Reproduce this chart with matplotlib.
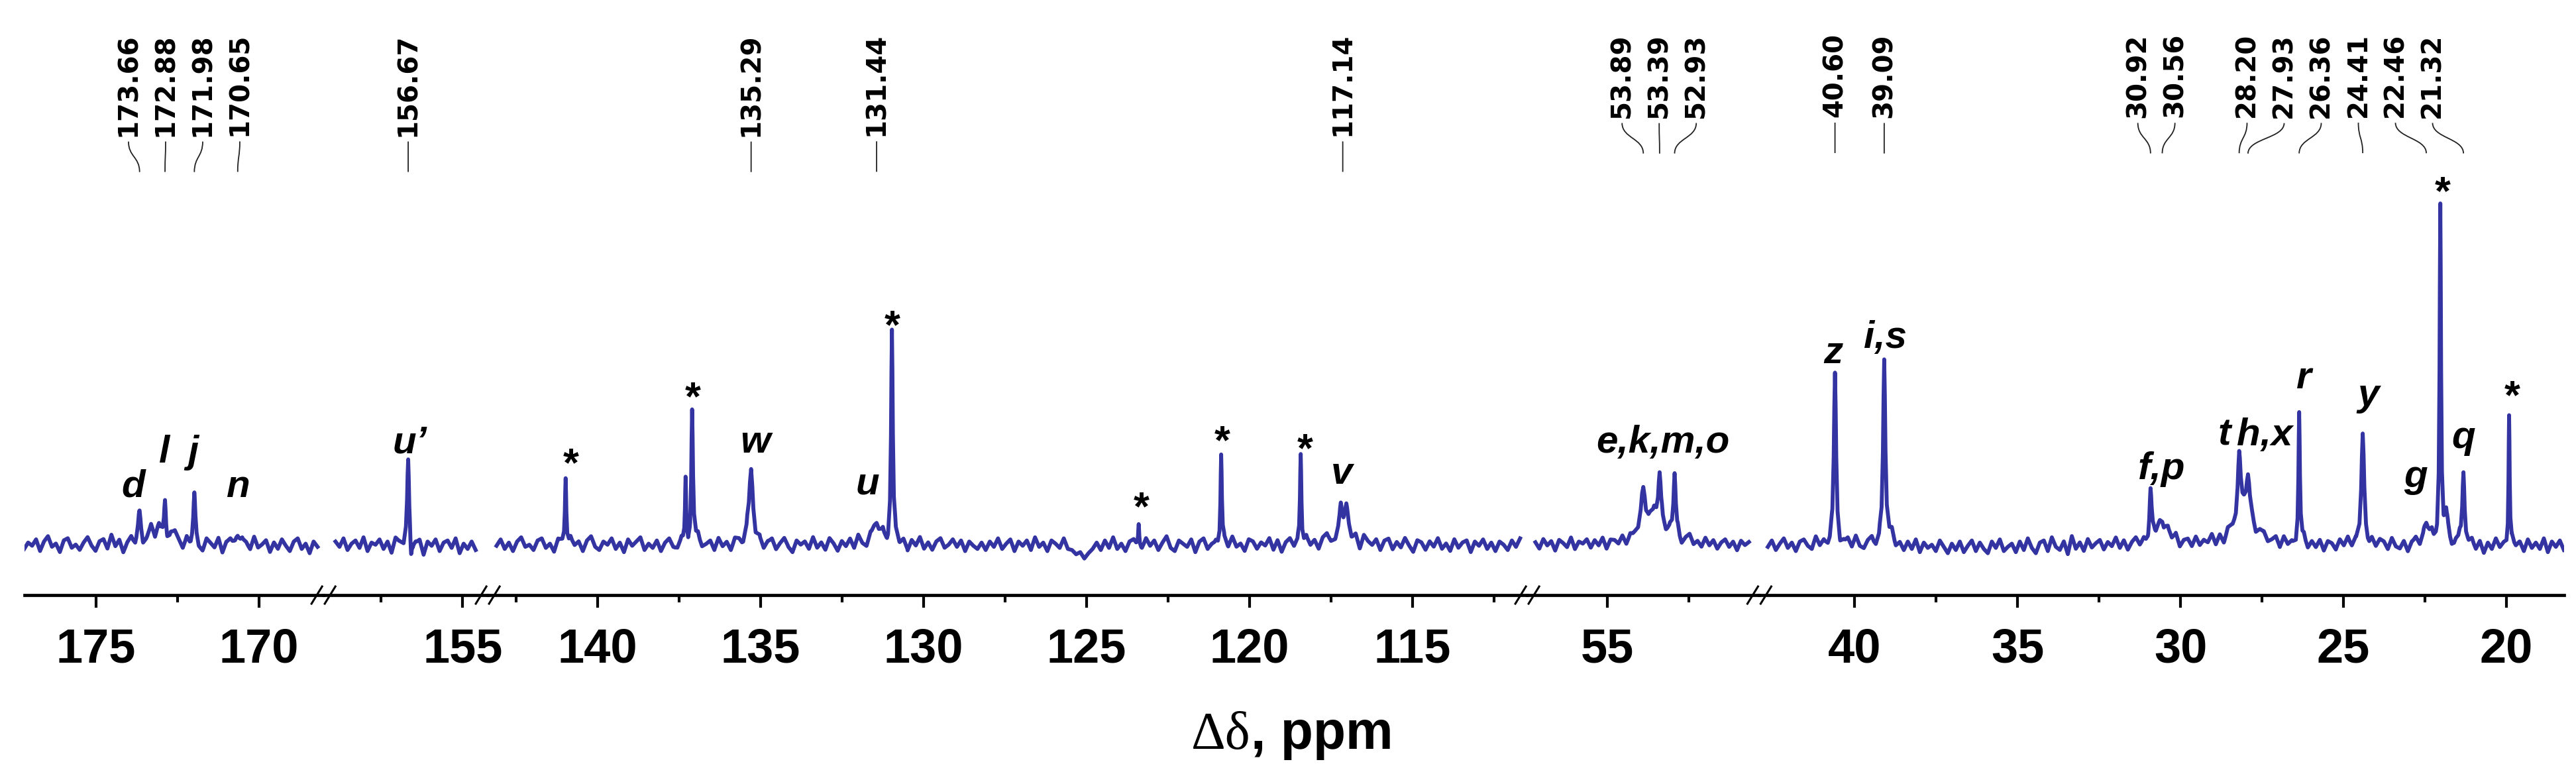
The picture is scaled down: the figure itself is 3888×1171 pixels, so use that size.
import numpy as np
import matplotlib
matplotlib.use('Agg')
import matplotlib.pyplot as plt
from matplotlib.path import Path
from matplotlib.patches import PathPatch
from matplotlib.lines import Line2D
from matplotlib import font_manager as fm

W, H, DPI = 3888, 1171, 100
BLUE = '#3333a2'

# broken ppm axis: panel limits (left, right) and range covered by the trace
SEG_LIMS = [(177.19, 168.02), (159.27, 154.23), (143.37, 111.48), (57.45, 50.33), (42.92, 18.23)]
SEG_DATA = [(177.2, 168.2), (158.9, 154.6), (143.1, 111.7), (57.2, 50.65), (42.66, 18.24)]
MAJOR_TICKS = [[175, 170], [155], [140, 135, 130, 125, 120, 115], [55], [40, 35, 30, 25, 20]]
MINOR_TICKS = [[172.5], [157.5], [142.5, 137.5, 132.5, 127.5, 122.5, 117.5, 112.5],
               [52.5], [37.5, 32.5, 27.5, 22.5]]

# peaks: position (ppm), height (a.u.), half width (ppm)
PEAK_PPM = [173.66, 173.10, 172.88, 171.98, 170.65,
            156.67, 156.58,
            140.98, 137.30, 137.10, 135.29, 131.44, 130.97, 123.40, 120.87, 118.43,
            117.20, 117.10, 117.03,
            53.89, 53.55, 53.39, 52.93,
            40.60, 39.09, 30.92, 30.56, 28.20, 28.05, 27.93, 26.36, 24.41,
            22.46, 22.03, 21.85, 21.32, 19.92]
PEAK_HEIGHT = [35, 18, 62, 65, 22,
               125, -25,
               105, 95, 205, 115, 32, 318, 35, 140, 139,
               35, 30, 28,
               60, 40, 75, 93,
               254, 282, 70, 36, 88, 55, 62, 195, 162,
               35, 504, 40, 112, 199]
PEAK_WIDTH = [0.05, 0.25, 0.035, 0.035, 0.08,
              0.035, 0.02,
              0.025, 0.02, 0.03, 0.07, 0.15, 0.03, 0.02, 0.025, 0.025,
              0.04, 0.25, 0.04,
              0.08, 0.4, 0.05, 0.04,
              0.04, 0.04, 0.035, 0.2, 0.05, 0.3, 0.06, 0.025, 0.05,
              0.1, 0.025, 0.06, 0.04, 0.02]

# baseline noise (list units; NOISE_AU a.u. per unit)
NOISE_AU = 1.6
NOISE_1 = [-4, 2, -1, 5, -6, 3, 8, -2, 1, -7, 4, 6, -3, 0, -5, 2, 7, -1, -6, 3, 5, -4, 9, -2,
           4, -8, 1, 6, -3, 10, -5, 2, 12, -3, 8, 0, -6, 7, 11, 3, -5, 6, -2, 9, -4, -7, 5, 1,
           -3, 6, -8, 2, 4, -2, -6, 3, 1, -5, 7, -3, 0, 4, -7, 2, -4, 5, -1, -6, 3, 6, -4, 1,
           -8, 3, -2]
NOISE_2 = [3, -2, 6, -5, 1, 4, -3, 7, -6, 2, 0, 5, -4, 3, -8, 6, 2, -3, 5, -7, 1, 4, -10, 3,
           -1, 5, -6, 2, 4, -3, 6, -8, 1, -4, 3, -5]
NOISE_3 = [-1, 5, -4, 2, -6, 3, 7, -2, 0, -5, 4, 6, -3, 1, -7, 5, 2, -4, 6, -1,
           3, -6, 4, 8, -2, -5, 3, 0, 6, -4, 2, -7, 5, -1, 3, 7, -5, 1, -3, 4,
           -6, 2, 6, -2, -4, 5, 1, -7, 3, 8, -3, 0, 4, -5, 6, -2, 2, -6, 5, 3,
           -4, 7, -1, -3, 4, -6, 2, 5, -5, 1, 6, -2, -7, 4, 0, 3, -4, 7, -3, 2,
           -5, 6, 1, -6, 3, -2, 5, -4, 8, -1, -5, 4, 2, -3, 6, -7, 1, 5, -2, 3,
           -6, 4, -1, 7, -4, 2, -5, 3, 6, -3, 0, 5, -2, 4, -6, 3, -1, -4, 2, -5,
           3, -2, 6, -4, 1, 5, -6, 3, -1, 4, -5, 7, -2, 2, -6, 4, 1, -3, 6, -4,
           -5, -9, -7, -13, -8, -4, 2, -5, 4, -3, 7, -4, 1, -6, 3, 5, -2, -4, 6, -1,
           4, -5, 2, 8, -3, -6, 4, 1, -2, 5, -7, 3, 6, -4, 0, 2, -5, 4, -3, 7,
           -2, 1, -6, 5, 3, -4, 2, -1, 6, -5, 4, -7, 2, 5, -3, 1, -4, 6, -2, 3,
           -6, 4, 7, -3, -5, 2, 0, 5, -4, 3, -8, 6, 1, -2, 4, -6, 3, 5, -5, 2,
           -3, 6, -1, -7, 4, 2, -5, 3, -2, 6, -4, 1, -6, 5, -3, 2, 4, -7, 3, -1,
           5, -4, 2, -6, 3, 0, -5, 4, -2, 6]
NOISE_4 = [2, -4, 5, -1, 3, -6, 4, 1, -3, 6, -5, 2, 0, 4, -4, 3, -2, 5, -6, 2, 1, -3, 4, -5,
           3, 0, -2, 4, -4, 2, 5, -3, 1, -5, 3, -1, 4, -6, 2, 6, -3, 1, -4, 5, -2, 3, -5, 1,
           4, -3, 2, -6, 3, -1, 2]
NOISE_5 = [-2, 4, -5, 1, 6, -3, 2, -6, 3, 5, -1, -4, 7, -2, 3, -5, 2, 4, -6, 1,
           5, -3, 8, -1, -4, 3, 6, -5, 2, -2, 4, 10, -3, 1, -6, 3, -4, 5, -7, 2,
           -3, 0, -6, 4, -2, -8, 1, -5, 3, -7, -1, 4, -6, 2, -4, -8, 3, -3, 5, -6,
           -2, 1, -7, 3, -5, 6, -3, -8, 2, 4, -6, 7, -2, -5, 3, -9, 8, -4, 2, -6,
           5, -3, 1, 4, -5, 2, -2, 6, -4, 3, -6, 1, 5, -3, 2, -4, 7, -1, 3, -5,
           4, -2, 6, -6, 1, 3, -4, 5, -3, 2, -1, 6, -5, 3, -6, 4, 1, -3, 5, -2,
           -4, 3, -6, 2, 5, -3, 0, 4, -5, 6, -2, 1, -4, 3, 6, -5, 2, -3, 4, -6,
           3, 1, -5, 4, -2, 6, -4, 2, -1, 5, -6, 3, -3, 4, 2, -5, 6, -2, -4, 3,
           -7, 2, 5, -4, 1, -3, 6, -5, 3, -2, 4, -6, 2, 5, -3, -1, 4, -5, 3, -8,
           2, -4, 6, -3, 1, -5, 4, -2, 3, -6, 5, -3, 2, -4, 6, -7, 3, -2, 4, -5]
NOISE = [NOISE_1, NOISE_2, NOISE_3, NOISE_4, NOISE_5]

# picked peak values written above the spectrum, grouped as they fan out
PICKED = [[173.66, 172.88, 171.98, 170.65], [156.67], [135.29], [131.44], [117.14],
          [53.89, 53.39, 52.93], [40.60], [39.09], [30.92, 30.56],
          [28.20, 27.93, 26.36, 24.41, 22.46, 21.32]]

# assignment labels: text, ppm, baseline height (a.u.)
LABELS = [('d', 173.86, 72), ('l', 172.89, 124), ('j', 172.01, 124), ('n', 170.63, 72),
          ('u\u2019', 156.63, 139),
          ('*', 140.81, 104), ('*', 137.07, 204), ('w', 135.16, 139), ('u', 131.71, 76),
          ('*', 130.96, 312), ('*', 123.31, 38), ('*', 120.83, 138), ('*', 118.29, 126),
          ('v', 117.17, 92), ('e,k,m,o', 53.29, 139),
          ('z', 40.65, 274), ('i,s', 39.05, 297), ('f,p', 30.58, 99), ('t', 28.65, 150),
          ('h,x', 27.41, 150), ('r', 26.21, 236), ('y', 24.24, 210), ('g', 22.78, 87),
          ('*', 21.95, 514), ('q', 21.32, 146), ('*', 19.82, 206)]

# lorentzian-like outline of one line (offset in half widths, fraction of height)
PROF_OFF = np.array([-16, -8, -4, -2, -1, -0.5, 0, 0.5, 1, 2, 4, 8, 16])
PROF_FRAC = np.array([0.004, 0.015, 0.059, 0.2, 0.5, 0.8, 1, 0.8, 0.5, 0.2, 0.059, 0.015, 0.004])


def has_font(name):
    try:
        fm.findfont(fm.FontProperties(family=name), fallback_to_default=False)
        return True
    except ValueError:
        return False


TICK_FAMILY = 'Liberation Sans Narrow' if has_font('Liberation Sans Narrow') else 'Liberation Sans'


def trace(lo, hi, noise):
    xn = np.linspace(lo, hi, len(noise))
    pts = [xn]
    for p, w in zip(PEAK_PPM, PEAK_WIDTH):
        if hi <= p <= lo:
            pts.append(p + PROF_OFF * w)
    x = np.unique(np.concatenate(pts))
    x = x[(x <= lo) & (x >= hi)]
    y = np.interp(x, xn[::-1], NOISE_AU * np.array(noise[::-1], float))
    for p, h, w in zip(PEAK_PPM, PEAK_HEIGHT, PEAK_WIDTH):
        y += np.interp(x, p + PROF_OFF * w, h * PROF_FRAC, left=0, right=0)
    return x, y


PX_PER_PPM = 49.2
AX_BOTTOM = 898  # px from top
fig = plt.figure(figsize=(W / DPI, H / DPI), dpi=DPI)
fig.patch.set_facecolor('white')

axes = []
left = 37
for k, (lo, hi) in enumerate(SEG_LIMS):
    wpx = (lo - hi) * PX_PER_PPM
    ax = fig.add_axes([left / W, 1 - AX_BOTTOM / H, wpx / W, AX_BOTTOM / H])
    left += wpx
    ax.set_xlim(lo, hi)
    ax.set_ylim(-76, 822)
    ax.patch.set_visible(False)
    for s in ['top', 'left', 'right']:
        ax.spines[s].set_visible(False)
    ax.spines['bottom'].set_linewidth(3.4)
    ax.set_yticks([])
    ax.set_xticks(MAJOR_TICKS[k])
    ax.set_xticklabels([str(t) for t in MAJOR_TICKS[k]])
    ax.set_xticks(MINOR_TICKS[k], minor=True)
    ax.tick_params(axis='x', which='major', length=14, width=3, pad=21, labelsize=52)
    ax.tick_params(axis='x', which='minor', length=8, width=3)
    for lab in ax.get_xticklabels():
        lab.set_fontfamily(TICK_FAMILY)
        lab.set_fontweight('bold')
    d_lo, d_hi = SEG_DATA[k]
    x, y = trace(d_lo, d_hi, NOISE[k])
    ax.plot(x, y, color=BLUE, lw=4.2, solid_joinstyle='round')
    axes.append(ax)


def axis_for(ppm):
    for ax, (lo, hi) in zip(axes, SEG_LIMS):
        if hi <= ppm <= lo:
            return ax
    return axes[-1]


# axis breaks "//"
edges = []
left = 37
for lo, hi in SEG_LIMS[:-1]:
    left += (lo - hi) * PX_PER_PPM
    edges.append(left)
ya = H - AX_BOTTOM
for bx in edges:
    for c in (bx - 10, bx + 10):
        fig.add_artist(Line2D([(c - 8) / W, (c + 8) / W], [(ya - 13) / H, (ya + 13) / H],
                              transform=fig.transFigure, color='black', lw=2.2))

# assignment labels
for txt, ppm, yv in LABELS:
    ax = axis_for(ppm)
    if txt == '*':
        ax.text(ppm, yv, txt, ha='center', va='baseline', fontsize=44,
                family='Liberation Sans', fontweight='bold')
    else:
        ax.text(ppm, yv, txt, ha='center', va='baseline', fontsize=42,
                family='Liberation Sans', fontweight='bold', fontstyle='italic')

fig.canvas.draw()
renderer = fig.canvas.get_renderer()

# picked peak values with connector lines
SPACING = 56
for group in PICKED:
    pxs = [axis_for(v).transData.transform((v, 0))[0] for v in group]
    cen = np.mean(pxs)
    n = len(group)
    for i, (v, px) in enumerate(zip(group, pxs)):
        lx = px if n == 1 else cen + (i - (n - 1) / 2) * SPACING
        t = fig.text(lx / W, 1 - 50 / H, f'{v:.2f}', rotation=90, ha='center', va='top',
                     family='DejaVu Sans', fontweight='bold', fontsize=29)
        bb = t.get_window_extent(renderer)
        y0 = bb.y0 - 8
        y1 = y0 - 46
        ym = (y0 + y1) / 2
        verts = [(lx / W, y0 / H), (lx / W, ym / H), (px / W, ym / H), (px / W, y1 / H)]
        path = Path(verts, [Path.MOVETO, Path.CURVE4, Path.CURVE4, Path.CURVE4])
        fig.add_artist(PathPatch(path, transform=fig.transFigure, fill=False,
                                 edgecolor='#222222', lw=1.3))

# axis title: serif delta-delta followed by bold sans ", ppm"
yb = 1 - 1130 / H
t1 = fig.text(0, yb, '\u0394\u03b4', family='Liberation Serif', fontsize=58, va='baseline',
              ha='left')
t2 = fig.text(0, yb, ', ppm', family='Liberation Sans', fontweight='bold', fontsize=58,
              va='baseline', ha='left')
w1 = t1.get_window_extent(renderer).width
w2 = t2.get_window_extent(renderer).width
start = 1950 - (w1 + w2) / 2
t1.set_x(start / W)
t2.set_x((start + w1) / W)

fig.savefig('out.png', dpi=DPI, facecolor='white')
